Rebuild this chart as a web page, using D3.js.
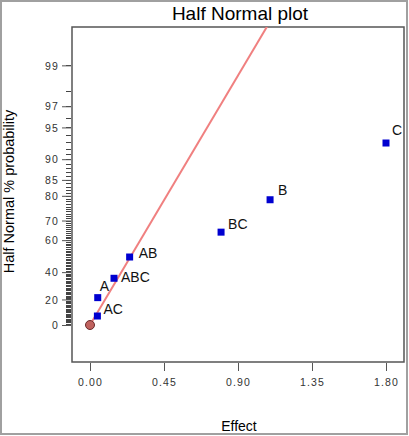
<!DOCTYPE html>
<html>
<script src='https://d3js.org/d3.v7.min.js'></script>
<style>
  body {margin: 0; background: white;}
  text {font-family: 'Liberation Sans', Arial, sans-serif;}
  .tick text {font-size: 10.5px; letter-spacing: 1.2px; fill: #333;}
</style>
<body onload='init()'>
<svg width=409 height=436></svg>
<script>
// effect names, absolute effects and half-normal % probability
var terms = ['AC', 'A', 'ABC', 'AB', 'BC', 'B', 'C'];
var effects = [0.045, 0.047, 0.146, 0.241, 0.797, 1.095, 1.80];
var probs = [7.1, 21.4, 35.7, 50, 64.3, 78.6, 92.9];
var labelDx = [6, 2, 7, 9, 7, 8, 6];
var labelDy = [-2, -7, 4, 1, -3, -5, -8];

// reference line through the origin (effect -> z)
var lineEffects = [0, 1.15];
var lineSlope = 2.75;

var xTicks = [0, 0.45, 0.90, 1.35, 1.80];
var yTicks = [0, 20, 40, 60, 70, 80, 85, 90, 95, 97, 99];
var yMinor = d3.range(0, 100);

// inverse normal cdf (Acklam)
function probit(p) {
  var a = [-3.969683028665376e+01, 2.209460984245205e+02, -2.759285104469687e+02, 1.383577518672690e+02, -3.066479806614716e+01, 2.506628277459239e+00];
  var b = [-5.447609879822406e+01, 1.615858368580409e+02, -1.556989798598866e+02, 6.680131188771972e+01, -1.328068155288572e+01];
  var c = [-7.784894002430293e-03, -3.223964580411365e-01, -2.400758277161838e+00, -2.549671208019823e+00, 4.374664141464968e+00, 2.938163982698783e+00];
  var d = [7.784695709041462e-03, 3.224671290700398e-01, 2.445134137142996e+00, 3.754408661907416e+00];
  var pl = 0.02425, q, r;
  if (p < pl) {
    q = Math.sqrt(-2 * Math.log(p));
    return (((((c[0]*q+c[1])*q+c[2])*q+c[3])*q+c[4])*q+c[5]) / ((((d[0]*q+d[1])*q+d[2])*q+d[3])*q+1);
  }
  if (p <= 1 - pl) {
    q = p - 0.5; r = q * q;
    return (((((a[0]*r+a[1])*r+a[2])*r+a[3])*r+a[4])*r+a[5])*q / (((((b[0]*r+b[1])*r+b[2])*r+b[3])*r+b[4])*r+1);
  }
  q = Math.sqrt(-2 * Math.log(1 - p));
  return -(((((c[0]*q+c[1])*q+c[2])*q+c[3])*q+c[4])*q+c[5]) / ((((d[0]*q+d[1])*q+d[2])*q+d[3])*q+1);
}
// half-normal score for a percentage
function hz(pct) { return probit(0.5 + pct / 200); }

function init() {
  var L = 72, T = 27, R = 404, B = 362;
  var svg = d3.select('svg');

  var xs = d3.scaleLinear().domain([0, 1.8]).range([90, 386]);
  var ys = d3.scaleLinear().domain([0, 1]).range([325, 224.2]);

  // outer frame
  svg.append('rect').attr('x', 1).attr('y', 1).attr('width', 406).attr('height', 433)
    .attr('fill', 'none').attr('stroke', '#a0a0a0').attr('stroke-width', 2);

  svg.append('defs').append('clipPath').attr('id', 'clip')
    .append('rect').attr('x', L).attr('y', T).attr('width', R - L).attr('height', B - T);

  // plot box
  svg.append('rect').attr('x', L).attr('y', T).attr('width', R - L).attr('height', B - T)
    .attr('fill', 'none').attr('stroke', '#555').attr('stroke-width', 1.5);

  // y axis minor ticks
  svg.append('g').attr('class', 'minor').selectAll('line').data(yMinor).enter().append('line')
    .attr('x1', 66).attr('x2', 71)
    .attr('y1', function(d) { return Math.round(ys(hz(d))) + 0.5; })
    .attr('y2', function(d) { return Math.round(ys(hz(d))) + 0.5; })
    .attr('stroke', '#444').attr('stroke-width', 1);

  // y axis major ticks
  var yg = svg.append('g').attr('transform', 'translate(' + (L - 1) + ',0)')
    .call(d3.axisLeft(ys).tickValues(yTicks.map(hz)).tickSize(9).tickPadding(4)
      .tickFormat(function(d, i) { return yTicks[i]; }));
  yg.select('.domain').remove();
  yg.selectAll('.tick line').attr('stroke', '#555');
  yg.selectAll('.tick text').attr('x', -12).attr('dy', '0.35em');

  // x axis
  var xg = svg.append('g').attr('transform', 'translate(0,' + (B + 1) + ')')
    .call(d3.axisBottom(xs).tickValues(xTicks).tickSize(8).tickPadding(8)
      .tickFormat(d3.format('.2f')));
  xg.select('.domain').remove();
  xg.selectAll('.tick line').attr('stroke', '#555');

  // reference line
  svg.append('path')
    .datum(lineEffects)
    .attr('clip-path', 'url(#clip)')
    .attr('d', d3.line().x(function(d) { return xs(d); }).y(function(d) { return ys(lineSlope * d); }))
    .attr('stroke', '#f08080').attr('stroke-width', 2).attr('fill', 'none');

  // origin marker
  svg.append('circle').attr('cx', xs(0)).attr('cy', ys(0)).attr('r', 4.5)
    .attr('fill', '#c0625e').attr('stroke', '#6a2a2a').attr('stroke-width', 1);

  // points
  svg.append('g').selectAll('rect').data(terms).enter().append('rect')
    .attr('x', function(d, i) { return xs(effects[i]) - 3.5; })
    .attr('y', function(d, i) { return ys(hz(probs[i])) - 3.5; })
    .attr('width', 7).attr('height', 7)
    .attr('fill', '#0000d0');

  svg.append('g').selectAll('text').data(terms).enter().append('text')
    .attr('x', function(d, i) { return xs(effects[i]) + labelDx[i]; })
    .attr('y', function(d, i) { return ys(hz(probs[i])) + labelDy[i]; })
    .attr('font-size', 14).attr('fill', '#111')
    .text(function(d) { return d; });

  // titles
  svg.append('text').attr('x', 240).attr('y', 20).attr('text-anchor', 'middle')
    .attr('font-size', 19).text('Half Normal plot');
  svg.append('text').attr('x', 239).attr('y', 430.5).attr('text-anchor', 'middle')
    .attr('font-size', 14).text('Effect');
  svg.append('text').attr('transform', 'translate(13.5,191.5) rotate(-90)')
    .attr('text-anchor', 'middle').attr('font-size', 14.5).text('Half Normal % probability');
}
</script>
</body>
</html>
